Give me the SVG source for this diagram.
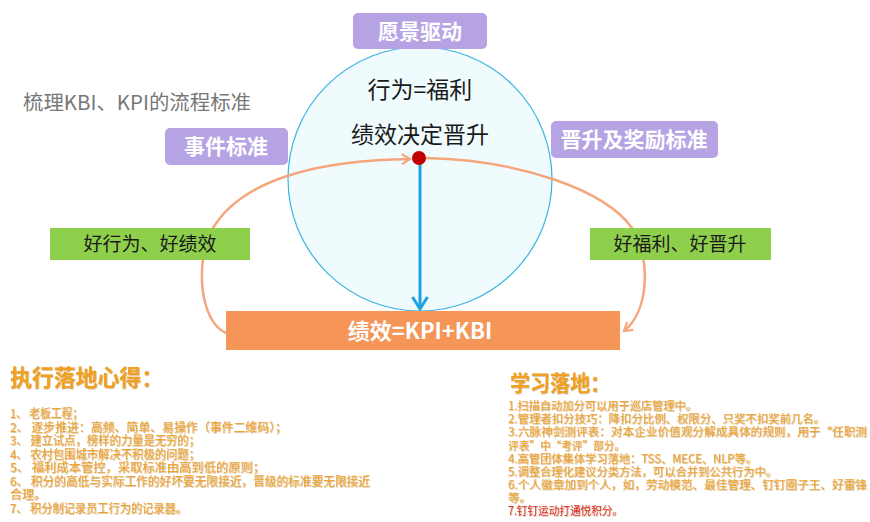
<svg xmlns="http://www.w3.org/2000/svg" width="870" height="522" viewBox="0 0 870 522">
<defs>
<style>
.cjk{font-family:"Noto Sans CJK SC","Noto Sans",sans-serif}
.tag{fill:#b6a3e4}
.tagt{fill:#fff;font-weight:bold;font-size:21px;text-anchor:middle}
.green{fill:#8ecf4b}
.greent{fill:#1a1a1a;font-size:19px;text-anchor:middle}
.loop{fill:none;stroke:#f5a67d;stroke-width:2.5}
.head{fill:#f0a020;font-weight:bold}
.item{fill:#efa533}
.shadow{filter:url(#sh)}
</style>
<filter id="sh" x="-5%" y="-20%" width="110%" height="140%">
<feDropShadow dx="0.6" dy="0.6" stdDeviation="0.6" flood-color="#a05a00" flood-opacity="0.55"/>
</filter>
<marker id="chev" markerWidth="12" markerHeight="12" refX="9" refY="6" orient="auto" markerUnits="userSpaceOnUse">
<path d="M1,1 L9,6 L1,11" fill="none" stroke="#f5a67d" stroke-width="2.2"/>
</marker>
</defs>
<rect width="870" height="522" fill="#fff"/>

<text class="cjk" x="23" y="110" font-size="20" fill="#777" textLength="228" lengthAdjust="spacingAndGlyphs">梳理KBI、KPI的流程标准</text>

<g id="circle">
<circle cx="420" cy="179" r="132" fill="#f0fbfd" stroke="#3bb4e0" stroke-width="1.2"/>
<text class="cjk" x="420" y="98" font-size="23" fill="#1a1a1a" text-anchor="middle">行为=福利</text>
<text class="cjk" x="420" y="143" font-size="23" fill="#1a1a1a" text-anchor="middle">绩效决定晋升</text>
</g>

<g id="vision">
<rect class="tag" x="353" y="13" width="134" height="36" rx="5"/>
<text class="cjk tagt" x="420" y="39">愿景驱动</text>
</g>
<g id="event-std">
<rect class="tag" x="165" y="128" width="123" height="37" rx="5"/>
<text class="cjk tagt" x="226" y="154">事件标准</text>
</g>
<g id="promo-std">
<rect class="tag" x="551" y="121" width="167" height="37" rx="5"/>
<text class="cjk tagt" x="634" y="147">晋升及奖励标准</text>
</g>

<g id="connectors">
<path class="loop" d="M226 333 C200 322 194 262 213 228 C245 175 330 160 410 159" marker-end="url(#chev)"/>
<path class="loop" d="M426 158 C520 160 605 190 632 228 C652 262 648 312 624 331" marker-end="url(#chev)"/>
<line x1="420" y1="160" x2="420" y2="306" stroke="#1aa5e0" stroke-width="3"/>
<polyline points="412.5,297 420,309 427.5,297" fill="none" stroke="#1aa5e0" stroke-width="3"/>
</g>

<g id="dot">
<circle cx="419" cy="158" r="7" fill="#c00000"/>
</g>

<g id="good-behavior">
<rect class="green" x="50" y="228" width="200" height="32"/>
<text class="cjk greent" x="150" y="251">好行为、好绩效</text>
</g>
<g id="good-welfare">
<rect class="green" x="590" y="228" width="181" height="32"/>
<text class="cjk greent" x="680" y="251">好福利、好晋升</text>
</g>

<g id="perf">
<rect x="226" y="311" width="394" height="39" fill="#f69558"/>
<text class="cjk" x="420" y="339" font-size="22" font-weight="bold" fill="#fff" text-anchor="middle">绩效=KPI+KBI</text>
</g>

<g id="exec-notes" class="cjk shadow">
<text class="head" x="10" y="386" font-size="23" textLength="153" lengthAdjust="spacingAndGlyphs">执行落地心得：</text>
<text class="item" font-size="12">
<tspan x="10" y="418" textLength="73" lengthAdjust="spacingAndGlyphs">1、 老板工程；</tspan>
<tspan x="10" y="432" textLength="277" lengthAdjust="spacingAndGlyphs">2、 逐步推进：高频、简单、易操作（事件二维码）；</tspan>
<tspan x="10" y="445" textLength="190" lengthAdjust="spacingAndGlyphs">3、 建立试点，榜样的力量是无穷的；</tspan>
<tspan x="10" y="459" textLength="190" lengthAdjust="spacingAndGlyphs">4、 农村包围城市解决不积极的问题；</tspan>
<tspan x="10" y="472" textLength="255" lengthAdjust="spacingAndGlyphs">5、 福利成本管控，采取标准由高到低的原则；</tspan>
<tspan x="10" y="486" textLength="360" lengthAdjust="spacingAndGlyphs">6、 积分的高低与实际工作的好坏要无限接近，晋级的标准要无限接近</tspan>
<tspan x="10" y="499">合理。</tspan>
<tspan x="10" y="513" textLength="177" lengthAdjust="spacingAndGlyphs">7、 积分制记录员工行为的记录器。</tspan>
</text>
</g>

<g id="learn-notes" class="cjk shadow">
<text class="head" x="510" y="391" font-size="22" textLength="100" lengthAdjust="spacingAndGlyphs">学习落地：</text>
<text class="item" font-size="11.5">
<tspan x="508" y="410" textLength="189" lengthAdjust="spacingAndGlyphs">1.扫描自动加分可以用于巡店管理中。</tspan>
<tspan x="508" y="423" textLength="317" lengthAdjust="spacingAndGlyphs">2.管理者扣分技巧：降扣分比例、权限分、只奖不扣奖前几名。</tspan>
<tspan x="508" y="436" textLength="359" lengthAdjust="spacingAndGlyphs">3.六脉神剑测评表：对本企业价值观分解成具体的规则，用于“任职测</tspan>
<tspan x="508" y="450" textLength="117" lengthAdjust="spacingAndGlyphs">评表”中“考评”部分。</tspan>
<tspan x="508" y="463" textLength="249" lengthAdjust="spacingAndGlyphs">4.高管团体集体学习落地：TSS、MECE、NLP等。</tspan>
<tspan x="508" y="476" textLength="269" lengthAdjust="spacingAndGlyphs">5.调整合理化建议分类方法，可以合并到公共行为中。</tspan>
<tspan x="508" y="489" textLength="359" lengthAdjust="spacingAndGlyphs">6.个人徽章加到个人，如，劳动模范、最佳管理、钉钉圈子王、好雷锋</tspan>
<tspan x="508" y="502">等。</tspan>
<tspan x="508" y="515" fill="#e03030" textLength="115" lengthAdjust="spacingAndGlyphs">7.钉钉运动打通悦积分。</tspan>
</text>
</g>
</svg>
